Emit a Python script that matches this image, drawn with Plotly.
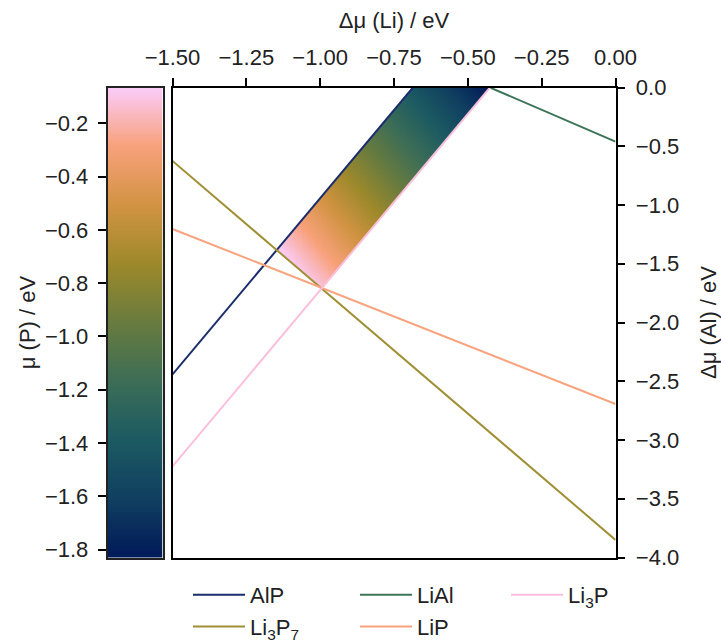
import numpy as np
import plotly.graph_objects as go

# ---------------- data ----------------
li_range = [-1.5, 0.0]          # Δμ(Li) axis
al_range = [-4.0, 0.0]          # Δμ(Al) axis
muP_range = [-1.83, -0.065]     # μ(P) colour range
li_ticks = [-1.50, -1.25, -1.00, -0.75, -0.50, -0.25, 0.00]
al_ticks = [0.0, -0.5, -1.0, -1.5, -2.0, -2.5, -3.0, -3.5, -4.0]
muP_ticks = [-0.2, -0.4, -0.6, -0.8, -1.0, -1.2, -1.4, -1.6, -1.8]

# phase-boundary lines: endpoints (Δμ(Li), Δμ(Al))
alp_li = [-1.5, -0.686]
alp_al = [-2.442, 0.0]
lial_li = [-0.425, 0.0]
lial_al = [0.0, -0.46]
li3p_li = [-1.5, -0.425]
li3p_al = [-3.225, 0.0]
li3p7_li = [-1.5, 0.0]
li3p7_al = [-0.625, -3.85]
lip_li = [-1.5, 0.0]
lip_al = [-1.204, -2.694]

# host phase Li3AlP2: 3μLi + μAl + 2μP = const  ->  μP = ref - 1.5 μLi - 0.5 μAl
muP_ref = -2.4675
n_li, n_al, n_p = 3, 1, 2

# colours
batlow = [
    [0.0, "#011959"], [0.125, "#103F60"], [0.25, "#1C5A62"], [0.375, "#3C6D56"],
    [0.5, "#687B3E"], [0.625, "#9D892B"], [0.75, "#D29343"], [0.875, "#F8A17B"],
    [1.0, "#FACCFA"],
]
col_alp = "#1b2d6b"
col_lial = "#3c7459"
col_li3p = "#fbbfdc"
col_li3p7 = "#9f8f35"
col_lip = "#f8a47f"

FONT = "Liberation Sans, Arial, sans-serif"
TXT = "#222222"
FS = 22

# ---------------- helpers ----------------
def line_fn(xs, ys):
    s = (ys[1] - ys[0]) / (xs[1] - xs[0])
    return lambda x: ys[0] + s * (x - xs[0])

f_alp = line_fn(alp_li, alp_al)
f_li3p = line_fn(li3p_li, li3p_al)
f_li3p7 = line_fn(li3p7_li, li3p7_al)

gx = np.linspace(-1.17, -0.41, 260)
gy = np.linspace(-1.76, 0.0, 240)
GX, GY = np.meshgrid(gx, gy)
inside = (GY <= f_alp(GX)) & (GY >= f_li3p(GX)) & (GY >= f_li3p7(GX)) & (GY <= 0.0)
Z = muP_ref - (n_li / n_p) * GX - (n_al / n_p) * GY
Z = np.where(inside, Z, np.nan)

fig = go.Figure()

fig.add_trace(go.Heatmap(x=gx, y=gy, z=Z, colorscale=batlow, zmin=muP_range[0], zmax=muP_range[1],
                         showscale=False, hoverinfo="skip", xaxis="x", yaxis="y"))

# colour bar as its own axis
cb_y = np.linspace(muP_range[0], muP_range[1], 300)
fig.add_trace(go.Heatmap(x=[0, 1], y=cb_y, z=np.column_stack([cb_y, cb_y]), colorscale=batlow,
                         zmin=muP_range[0], zmax=muP_range[1], showscale=False, hoverinfo="skip",
                         xaxis="x2", yaxis="y2"))

def add_line(xs, ys, name, color, legend, group):
    fig.add_trace(go.Scatter(x=xs, y=ys, mode="lines", name=name, line=dict(color=color, width=2),
                             legend=legend, legendgroup=group, xaxis="x", yaxis="y"))

add_line(alp_li, alp_al, "AlP", col_alp, "legend", "a")
add_line(li3p7_li, li3p7_al, "Li<sub>3</sub>P<sub>7</sub>", col_li3p7, "legend", "b")
add_line(lial_li, lial_al, "LiAl", col_lial, "legend2", "c")
add_line(lip_li, lip_al, "LiP", col_lip, "legend2", "d")
add_line(li3p_li, li3p_al, "Li<sub>3</sub>P", col_li3p, "legend3", "e")

W, H = 721, 644
px = lambda v: v / W
py = lambda v: 1 - v / H

axis_common = dict(showline=True, linecolor="black", linewidth=1.8, ticks="outside", ticklen=8,
                   tickwidth=1.6, tickcolor="black", showgrid=False, zeroline=False,
                   tickfont=dict(family=FONT, size=FS, color=TXT), automargin=False)

leg_common = dict(font=dict(family=FONT, size=FS, color=TXT), bgcolor="rgba(0,0,0,0)",
                  tracegroupgap=0, yanchor="top", xanchor="left", itemwidth=52)

fig.update_layout(
    width=W, height=H, margin=dict(l=0, r=0, t=0, b=0, autoexpand=False),
    paper_bgcolor="white", plot_bgcolor="white",
    xaxis=dict(domain=[px(172.5), px(615.5)], range=li_range, side="top", tickvals=li_ticks,
               tickformat=".2f", mirror=True, ticklabelstandoff=4,
               title=dict(text="Δμ (Li) / eV", font=dict(family=FONT, size=FS, color=TXT), standoff=10),
               anchor="y", **axis_common),
    yaxis=dict(domain=[py(557.5), py(87.5)], range=al_range, side="right", tickvals=al_ticks,
               tickformat=".1f", mirror=True, ticklabelstandoff=6,
               title=dict(text="Δμ (Al) / eV", font=dict(family=FONT, size=FS, color=TXT), standoff=22),
               anchor="x", **axis_common),
    xaxis2=dict(domain=[px(107.5), px(162.5)], range=[-0.5, 1.5], showticklabels=False, ticks="",
                showline=True, mirror=True, linecolor="#222", linewidth=1.5, showgrid=False,
                zeroline=False, anchor="y2", automargin=False),
    yaxis2=dict(domain=[py(557.5), py(87.5)], range=muP_range, side="left", tickvals=muP_ticks,
                tickformat=".1f", mirror=True, ticklabelstandoff=5, anchor="x2",
                title=dict(text="μ (P) / eV", font=dict(family=FONT, size=FS, color=TXT), standoff=3),
                **{**axis_common, "linecolor": "#222", "linewidth": 1.5}),
    legend=dict(x=px(188), y=py(574), **leg_common),
    legend2=dict(x=px(355), y=py(574), **leg_common),
    legend3=dict(x=px(506), y=py(574), **leg_common),
)

fig.write_html("out.html")
